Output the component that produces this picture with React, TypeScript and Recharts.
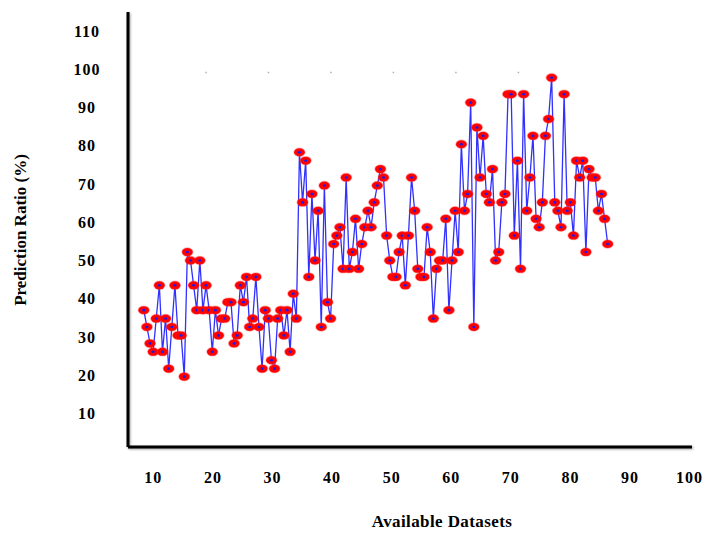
import { LineChart, Line, XAxis, YAxis, ReferenceLine } from 'recharts'

// prediction ratio per dataset in five stretches
const ratioPart1 = [
  37.0, 32.6, 28.3, 26.1, 34.8, 43.5, 26.1, 34.8, 21.7, 32.6, 43.5, 30.4, 30.4, 19.6, 52.2,
  50.0, 43.5, 37.0, 50.0, 37.0, 43.5, 37.0, 26.1, 37.0, 30.4, 34.8, 34.8, 39.1, 39.1,
]
const ratioPart2 = [
  28.3, 30.4, 43.5, 39.1, 45.7, 32.6, 34.8, 45.7, 32.6, 21.7, 37.0, 34.8, 23.9, 21.7, 34.8, 37.0,
  30.4, 37.0, 26.1, 41.3, 34.8, 78.3, 65.2, 76.1, 45.7, 67.4, 50.0, 63.0, 32.6, 69.6, 39.1, 34.8,
]
const ratioPart3 = [
  54.3, 56.5, 58.7, 47.8, 71.7, 47.8, 52.2, 60.9, 47.8, 54.3, 58.7, 63.0, 58.7, 65.2, 69.6,
  73.9, 71.7, 56.5, 50.0, 45.7, 45.7, 52.2, 56.5, 43.5, 56.5, 71.7, 63.0, 47.8, 45.7, 45.7,
]
const ratioPart4 = [
  58.7, 52.2, 34.8, 47.8, 50.0, 50.0, 60.9, 37.0, 50.0, 63.0, 52.2, 80.4, 63.0, 67.4, 91.3, 32.6,
  84.8, 71.7, 82.6, 67.4, 65.2, 73.9, 50.0, 52.2, 65.2, 67.4, 93.5, 93.5, 56.5, 76.1, 47.8,
]
const ratioPart5 = [
  93.5, 63.0, 71.7, 82.6, 60.9, 58.7, 65.2, 82.6, 87.0, 97.8, 65.2, 63.0, 58.7, 93.5,
  63.0, 65.2, 56.5, 76.1, 71.7, 76.1, 52.2, 73.9, 71.7, 71.7, 63.0, 67.4, 60.9, 54.3,
]

const xTicks = [10, 20, 30, 40, 50, 60, 70, 80, 90, 100]
const yTicks = [10, 20, 30, 40, 50, 60, 70, 80, 90, 100, 110]

// datasets sit half a unit apart along the x axis
const FIRST_X = 8.4
const X_STEP = 0.5225

const ratios = [...ratioPart1, ...ratioPart2, ...ratioPart3, ...ratioPart4, ...ratioPart5]
const data = ratios.map((ratio, i) => ({ x: FIRST_X + i * X_STEP, ratio }))

const FONT = '"Liberation Serif", "Times New Roman", serif'

const Marker = (props: any) => {
  const { cx, cy, index } = props
  if (cx == null || cy == null) return null
  return (
    <g key={index}>
      <ellipse cx={cx} cy={cy} rx={5.4} ry={4} fill="#ff0000" stroke="rgba(255,40,40,0.35)" strokeWidth={1.4} />
      <ellipse cx={cx} cy={cy} rx={1.5} ry={1.3} fill="#1c1cf0" />
    </g>
  )
}

const YTick = ({ y, payload }: any) => (
  <text x={87} y={y} dy="0.35em" textAnchor="middle" fontFamily={FONT} fontWeight="bold"
    fontSize={16} letterSpacing={1} fill="#000">
    {payload.value}
  </text>
)

const XTick = ({ x, payload }: any) => (
  <text x={x} y={477} dy="0.35em" textAnchor="middle" fontFamily={FONT} fontWeight="bold"
    fontSize={16} letterSpacing={1} fill="#000">
    {payload.value}
  </text>
)

const axisStyle = {
  stroke: '#000', strokeWidth: 3,
  style: { filter: 'drop-shadow(1px 1px 1px rgba(0,0,0,0.35))' },
}

export default function App() {
  return (
    <div style={{ position: 'absolute', left: 0, top: 0, width: 707, height: 533, background: '#fff' }}>
      <LineChart width={707} height={533} data={data}
        margin={{ top: 12, right: 15, bottom: 56, left: 68 }}>
        <XAxis type="number" dataKey="x" domain={[5.75, 100.4]} ticks={xTicks}
          allowDataOverflow height={30} tickLine={false} axisLine={axisStyle} tick={<XTick />} />
        <YAxis type="number" domain={[1.2, 115]} ticks={yTicks} allowDataOverflow
          width={60} tickLine={false} axisLine={axisStyle} tick={<YTick />} />
        <ReferenceLine segment={[{ x: 18.7, y: 99.2 }, { x: 81.6, y: 99.2 }]}
          stroke="#b0b0b0" strokeWidth={1.5} strokeDasharray="1.5 61" />
        <Line type="linear" dataKey="ratio" stroke="#3030ff" strokeWidth={1.3}
          dot={<Marker />} activeDot={false} isAnimationActive={false} />
      </LineChart>
      <div style={{
        position: 'absolute', left: 21, top: 230, transform: 'translate(-50%, -50%) rotate(-90deg)',
        fontFamily: FONT, fontWeight: 'bold', fontSize: 17, whiteSpace: 'nowrap', color: '#000',
      }}>
        Prediction Ratio (%)
      </div>
      <div style={{
        position: 'absolute', left: 442, top: 522, transform: 'translate(-50%, -50%)',
        fontFamily: FONT, fontWeight: 'bold', fontSize: 17, letterSpacing: 0.4,
        whiteSpace: 'nowrap', color: '#000',
      }}>
        Available Datasets
      </div>
    </div>
  )
}
